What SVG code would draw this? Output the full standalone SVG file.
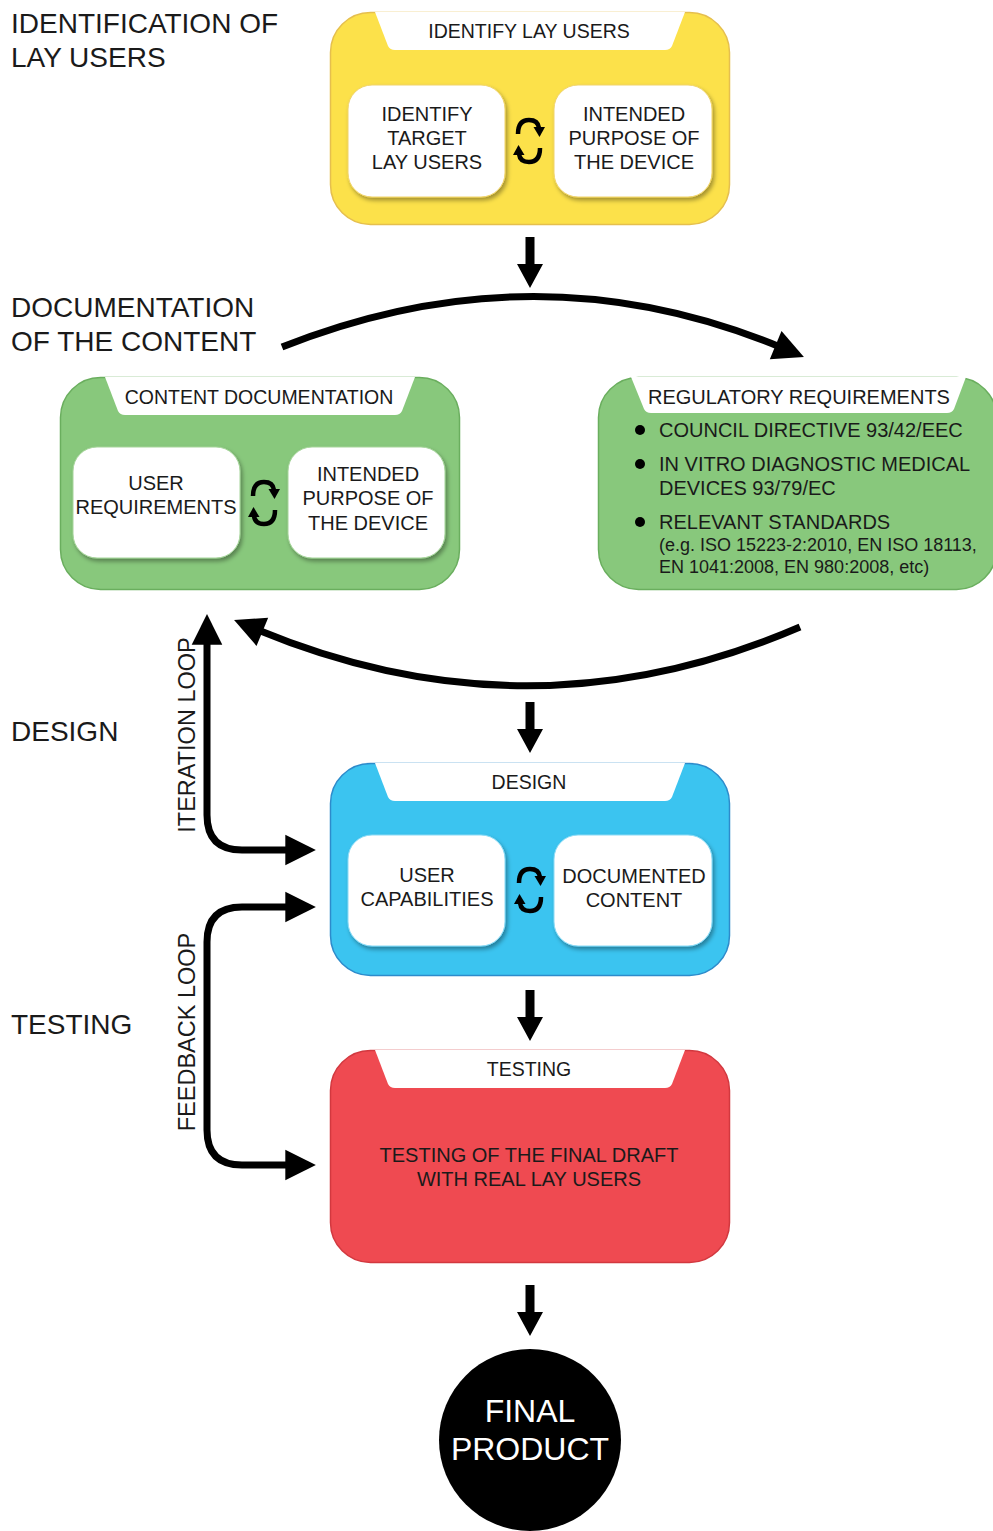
<svg xmlns="http://www.w3.org/2000/svg" width="993" height="1531" viewBox="0 0 993 1531">
<style>
text{font-family:"Liberation Sans",Arial,sans-serif;fill:#1a1a1a}
.lbl{font-size:28px}
.hdr{font-size:19.5px;text-anchor:middle}
.in{font-size:20px;text-anchor:middle}
.reg{font-size:20px}
.small{font-size:18px}
.rot{font-size:23.5px;text-anchor:middle}
.wb{fill:#fff;filter:url(#sh)}
.conn{fill:none;stroke:#000;stroke-width:7}
</style>
<defs>
<filter id="sh" x="-10%" y="-10%" width="125%" height="130%">
<feDropShadow dx="2" dy="3" stdDeviation="2" flood-color="#000" flood-opacity="0.35"/>
</filter>
<marker id="ah" markerUnits="userSpaceOnUse" markerWidth="40" markerHeight="40" viewBox="-2 -16 34 32" refX="4" refY="0" orient="auto-start-reverse">
<path d="M0,-13 L26,0 L0,13 Z" fill="#000"/>
</marker>
<g id="cyc">
<path d="M-11,-7 Q-11,-21 0,-21 Q9,-21 10,-13" fill="none" stroke="#000" stroke-width="4.5"/>
<path d="M4.5,-14 L16,-14 L10.5,-4 Z" fill="#000"/>
<path d="M11,7 Q11,21 0,21 Q-9,21 -10,13" fill="none" stroke="#000" stroke-width="4.5"/>
<path d="M-4.5,14 L-16,14 L-10.5,4 Z" fill="#000"/>
</g>
<path id="hd" d="M45,0 L355,0 L342,34 Q340,38 335,38 L65,38 Q60,38 58,34 Z"/>
</defs>
<rect width="993" height="1531" fill="#fff"/>

<g id="side-labels">
<text class="lbl" x="11" y="33">IDENTIFICATION OF</text>
<text class="lbl" x="11" y="67">LAY USERS</text>
<text class="lbl" x="11" y="317">DOCUMENTATION</text>
<text class="lbl" x="11" y="351">OF THE CONTENT</text>
<text class="lbl" x="11" y="741">DESIGN</text>
<text class="lbl" x="11" y="1034">TESTING</text>
<text class="rot" transform="translate(195,735) rotate(-90)">ITERATION LOOP</text>
<text class="rot" transform="translate(195,1032) rotate(-90)">FEEDBACK LOOP</text>
</g>

<g id="identify" transform="translate(330,12)">
<rect x="0.5" y="0.5" width="399" height="212" rx="40" fill="#FCE14A" stroke="#E5BF4E" stroke-width="1.5"/>
<use href="#hd" fill="#fff"/>
<text class="hdr" x="199" y="26">IDENTIFY LAY USERS</text>
<rect class="wb" x="18" y="73" width="157" height="112" rx="24" stroke="#F0D36A" stroke-width="1"/>
<rect class="wb" x="224" y="73" width="158" height="112" rx="24" stroke="#F0D36A" stroke-width="1"/>
<text class="in" x="97" y="109">IDENTIFY</text>
<text class="in" x="97" y="133">TARGET</text>
<text class="in" x="97" y="157">LAY USERS</text>
<text class="in" x="304" y="109">INTENDED</text>
<text class="in" x="304" y="133">PURPOSE OF</text>
<text class="in" x="304" y="157">THE DEVICE</text>
<use href="#cyc" x="199" y="129"/>
</g>

<g id="content-doc" transform="translate(60,377)">
<rect x="0.5" y="0.5" width="399" height="212" rx="40" fill="#88C87C" stroke="#6AAE5E" stroke-width="1.5"/>
<use href="#hd" fill="#fff"/>
<text class="hdr" x="199" y="27">CONTENT DOCUMENTATION</text>
<rect class="wb" x="13" y="70" width="167" height="111" rx="24" stroke="#A5D49A" stroke-width="1"/>
<rect class="wb" x="228" y="70" width="157" height="111" rx="24" stroke="#A5D49A" stroke-width="1"/>
<text class="in" x="96" y="113">USER</text>
<text class="in" x="96" y="137">REQUIREMENTS</text>
<text class="in" x="308" y="104">INTENDED</text>
<text class="in" x="308" y="128">PURPOSE OF</text>
<text class="in" x="308" y="153">THE DEVICE</text>
<use href="#cyc" x="204" y="126"/>
</g>

<g id="regulatory" transform="translate(598,377)">
<rect x="0.5" y="0.5" width="398" height="212" rx="40" fill="#88C87C" stroke="#6AAE5E" stroke-width="1.5"/>
<path d="M33,0 L368,0 L356,32 Q354,36 349,36 L53,36 Q48,36 46,32 Z" fill="#fff"/>
<text class="reg" x="201" y="27" text-anchor="middle">REGULATORY REQUIREMENTS</text>
<circle cx="42" cy="53" r="5" fill="#000"/>
<circle cx="42" cy="87" r="5" fill="#000"/>
<circle cx="42" cy="145" r="5" fill="#000"/>
<text class="reg" x="61" y="60">COUNCIL DIRECTIVE 93/42/EEC</text>
<text class="reg" x="61" y="94">IN VITRO DIAGNOSTIC MEDICAL</text>
<text class="reg" x="61" y="118">DEVICES 93/79/EC</text>
<text class="reg" x="61" y="152">RELEVANT STANDARDS</text>
<text class="small" x="61" y="174">(e.g. ISO 15223-2:2010, EN ISO 18113,</text>
<text class="small" x="61" y="196">EN 1041:2008, EN 980:2008, etc)</text>
</g>

<g id="design" transform="translate(330,763)">
<rect x="0.5" y="0.5" width="399" height="212" rx="40" fill="#3BC4F0" stroke="#2D8BCB" stroke-width="1.5"/>
<use href="#hd" fill="#fff"/>
<text class="hdr" x="199" y="26">DESIGN</text>
<rect class="wb" x="18" y="72" width="157" height="111" rx="24" stroke="#8ADAF5" stroke-width="1"/>
<rect class="wb" x="224" y="72" width="158" height="111" rx="24" stroke="#8ADAF5" stroke-width="1"/>
<text class="in" x="97" y="119">USER</text>
<text class="in" x="97" y="143">CAPABILITIES</text>
<text class="in" x="304" y="120">DOCUMENTED</text>
<text class="in" x="304" y="144">CONTENT</text>
<use href="#cyc" x="200" y="127"/>
</g>

<g id="testing" transform="translate(330,1050)">
<rect x="0.5" y="0.5" width="399" height="212" rx="40" fill="#EF4A51" stroke="#D2383F" stroke-width="1.5"/>
<use href="#hd" fill="#fff"/>
<text class="hdr" x="199" y="26">TESTING</text>
<text class="in" x="199" y="112">TESTING OF THE FINAL DRAFT</text>
<text class="in" x="199" y="136">WITH REAL LAY USERS</text>
</g>

<g id="final-product">
<circle cx="530" cy="1440" r="91" fill="#000"/>
<text x="530" y="1422" font-size="32" text-anchor="middle" style="fill:#fff">FINAL</text>
<text x="530" y="1460" font-size="32" text-anchor="middle" style="fill:#fff">PRODUCT</text>
</g>

<g id="connectors">
<path d="M525.5,237 H534.5 V264 H543 L530,288 L517,264 H525.5 Z"/>
<path d="M525.5,702 H534.5 V729 H543 L530,753 L517,729 H525.5 Z"/>
<path d="M525.5,990 H534.5 V1017 H543 L530,1041 L517,1017 H525.5 Z"/>
<path d="M525.5,1285 H534.5 V1312 H543 L530,1336 L517,1312 H525.5 Z"/>
<path class="conn" d="M282,347 Q536,246 780,347" marker-end="url(#ah)"/>
<path class="conn" d="M800,627 Q531,743 258,630" marker-end="url(#ah)"/>
<path class="conn" d="M207,640 L207,815 Q207,850 242,850 L290,850" marker-start="url(#ah)" marker-end="url(#ah)"/>
<path class="conn" d="M290,907 L242,907 Q207,907 207,942 L207,1130 Q207,1165 242,1165 L290,1165" marker-start="url(#ah)" marker-end="url(#ah)"/>
</g>
</svg>
